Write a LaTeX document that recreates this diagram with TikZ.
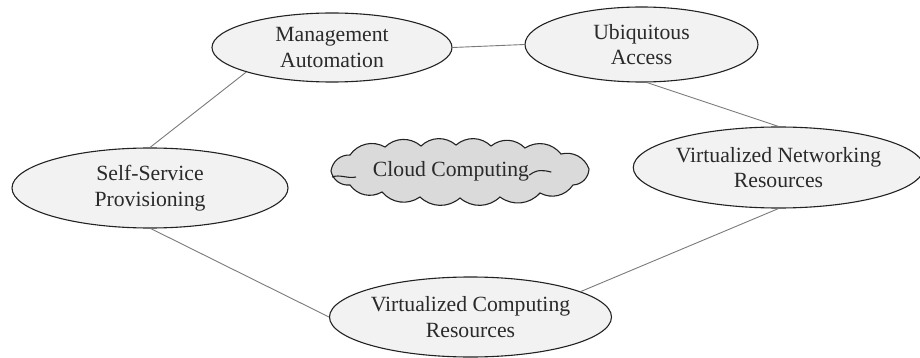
\documentclass[tikz,border=0pt]{standalone}
\usepackage{fontspec}
\setmainfont{Liberation Serif}
\usetikzlibrary{shapes.geometric}
\definecolor{ellfill}{HTML}{F2F2F2}
\definecolor{cloudfill}{HTML}{DADADA}
\definecolor{edgecol}{HTML}{222222}
\definecolor{linkcol}{HTML}{7A7A7A}
\definecolor{txtcol}{HTML}{2A2A2A}
\tikzset{
  bubble/.style={ellipse, draw=edgecol, fill=ellfill, line width=1.1pt, inner sep=0pt,
    align=center, text=txtcol, font=\fontsize{21.7}{25.5}\selectfont},
  link/.style={draw=linkcol, line width=0.9pt},
  cloudline/.style={draw=edgecol, line width=1.1pt},
  puff/.style={bend left=42}
}
\begin{document}
\begin{tikzpicture}[x=1pt,y=-1pt]
\useasboundingbox (0,0) rectangle (920,358);
\node[bubble, minimum width=240pt, minimum height=69pt] (ma) at (332,47.5) {Management\\Automation};
\node[bubble, minimum width=233pt, minimum height=75pt] (ua) at (641.5,44.5) {Ubiquitous\\Access};
\node[bubble, minimum width=276pt, minimum height=80pt] (ssp) at (150,188) {Self-Service\\Provisioning};
\node[bubble, minimum width=273pt, minimum height=81pt] (vnr) at (778.5,167.5) {Virtualized Networking\\Resources};
\node[bubble, minimum width=255pt, minimum height=80pt] (vcr) at (470.5,317) {Virtualized Computing\\Resources};
% cloud outline
\path[cloudline, fill=cloudfill]
  (331,171) to[puff] (350,155) to[puff] (385,147) to[puff] (421,146)
  to[puff] (456,145) to[puff] (491,146) to[puff] (525,148) to[puff] (561,154)
  to[puff] (589,169) to[puff] (573,185) to[puff] (540,193) to[puff] (500,197)
  to[puff] (460,198) to[puff] (420,197) to[puff] (382,192) to[puff] (350,185)
  to[puff] cycle;
\coordinate (cl) at (332,177);
\draw[cloudline] (cl) .. controls (340,174) and (348,179) .. (356,177);
\node[text=txtcol, font=\fontsize{21.7}{25.5}\selectfont, inner sep=0pt] (cct) at (451,171) {Cloud Computing};
\draw[cloudline] (cct.south east) ++(0,-6) .. controls +(8,-6) and +(-8,-2) .. ++(22,-3);
\draw[link] (ma.196.6) -- (ssp.90);
\draw[link] (ma.0) -- (ua.180);
\draw[link] (ua.278) -- (vnr.90);
\draw[link] (ssp.271) -- (vcr.180);
\draw[link] (vnr.270) -- (vcr.13.6);
\end{tikzpicture}
\end{document}
